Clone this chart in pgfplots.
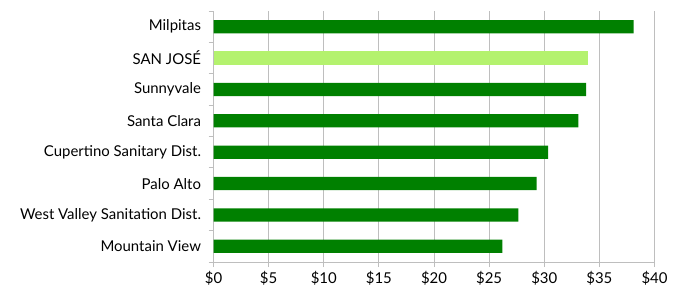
\documentclass[border=0pt]{standalone}
\usepackage{pgfplots}
\pgfplotsset{compat=1.18}
\usepackage{fontspec}
\setmainfont{Lato}
\definecolor{dkgreen}{RGB}{0,128,0}
\definecolor{ltgreen}{RGB}{180,242,110}
\definecolor{gridgray}{RGB}{190,190,190}
\begin{document}
\begin{tikzpicture}
\path[use as bounding box] (0,0) rectangle (681bp,291bp);
\begin{axis}[
  at={(213.5bp,29bp)}, anchor=south west,
  scale only axis, width=441bp, height=251bp,
  xbar, bar width=0.42,
  xmin=0, xmax=40, ymin=-0.5, ymax=7.5,
  xtick={0,5,...,40},
  xticklabels={\$0,\$5,\$10,\$15,\$20,\$25,\$30,\$35,\$40},
  ytick={0,...,7},
  yticklabels={Mountain View,West Valley Sanitation Dist.,Palo Alto,Cupertino Sanitary Dist.,Santa Clara,Sunnyvale,SAN JOSÉ,Milpitas},
  minor ytick={-0.5,0.5,...,7.5},
  major y tick style={draw=none},
  minor y tick style={draw=gridgray, line width=0.8pt},
  minor tick length=5bp,
  major tick length=5bp,
  x tick style={draw=gridgray, line width=0.8pt},
  tick align=outside,
  xmajorgrids, major grid style={draw=gridgray, line width=1pt},
  axis x line*=bottom, axis y line*=left,
  axis line style={draw=gridgray, line width=1pt, -},
  tick label style={font=\fontsize{15}{17}\selectfont, text=black},
  yticklabel style={xshift=-4bp},
  xticklabel style={yshift=-1bp},
]
\addplot[fill=dkgreen, draw=none, bar shift=0] coordinates {
(26.2,0) (27.65,1) (29.3,2) (30.35,3) (33.1,4) (33.8,5) (38.1,7)};
\addplot[fill=ltgreen, draw=none, bar shift=0] coordinates {(34.0,6)};
\end{axis}
\end{tikzpicture}
\end{document}
